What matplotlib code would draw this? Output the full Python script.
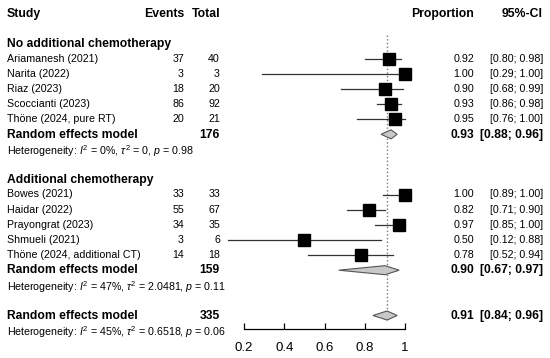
import matplotlib
matplotlib.use("Agg")
import matplotlib.pyplot as plt
from matplotlib.transforms import blended_transform_factory

plt.rcParams['font.family'] = ['Liberation Sans', 'DejaVu Sans']
plt.rcParams['mathtext.fontset'] = 'custom'
plt.rcParams['mathtext.rm'] = 'Liberation Sans'
plt.rcParams['mathtext.it'] = 'Liberation Sans:italic'

# subgroup 1: no additional chemotherapy
studies1 = ["Ariamanesh (2021)", "Narita (2022)", "Riaz (2023)", "Scoccianti (2023)", "Thöne (2024, pure RT)"]
events1 = [37, 3, 18, 86, 20]
totals1 = [40, 3, 20, 92, 21]
prop1 = [0.92, 1.00, 0.90, 0.93, 0.95]
lo1 = [0.80, 0.29, 0.68, 0.86, 0.76]
hi1 = [0.98, 1.00, 0.99, 0.98, 1.00]
re1 = (0.93, 0.88, 0.96)
n1 = 176
het1 = r"Heterogeneity: $I^2$ = 0%, $\tau^2$ = 0, $p$ = 0.98"

# subgroup 2: additional chemotherapy
studies2 = ["Bowes (2021)", "Haidar (2022)", "Prayongrat (2023)", "Shmueli (2021)", "Thöne (2024, additional CT)"]
events2 = [33, 55, 34, 3, 14]
totals2 = [33, 67, 35, 6, 18]
prop2 = [1.00, 0.82, 0.97, 0.50, 0.78]
lo2 = [0.89, 0.71, 0.85, 0.12, 0.52]
hi2 = [1.00, 0.90, 1.00, 0.88, 0.94]
re2 = (0.90, 0.67, 0.97)
n2 = 159
het2 = r"Heterogeneity: $I^2$ = 47%, $\tau^2$ = 2.0481, $p$ = 0.11"

# overall
re_all = (0.91, 0.84, 0.96)
n_all = 335
het_all = r"Heterogeneity: $I^2$ = 45%, $\tau^2$ = 0.6518, $p$ = 0.06"

ticks = [0.2, 0.4, 0.6, 0.8, 1.0]
tick_labels = ["0.2", "0.4", "0.6", "0.8", "1"]

W, H = 550, 358
fig = plt.figure(figsize=(W / 100, H / 100), dpi=100)
ax = fig.add_axes([0, 0, 1, 1])

# x: proportion scale, y: row index (pixel = 13.5 + 15.1 * row)
x0_px, x_scale = 244, 201.5
ax.set_xlim(0.2 - x0_px / x_scale, 0.2 + (W - x0_px) / x_scale)
ax.set_ylim((H - 13.5) / 15.1, -13.5 / 15.1)

tr = blended_transform_factory(ax.transAxes, ax.transData)
fs = 7.7
fsb = 8.7
fsh = 8.8
va = 'center_baseline'
dy = -0.08  # nudge text up a touch to line up with the marks

def px(x):
    return x / W

def txt(x, row, s, ha='left', size=fs, bold=False):
    ax.text(px(x), row + dy, s, transform=tr, ha=ha, va=va, fontsize=size,
            fontweight='bold' if bold else 'normal')

# headers
txt(7, 0, "Study", size=fsh, bold=True)
txt(184, 0, "Events", ha='right', size=fsh, bold=True)
txt(220, 0, "Total", ha='right', size=fsh, bold=True)
txt(474, 0, "Proportion", ha='right', size=fsh, bold=True)
txt(543, 0, "95%-CI", ha='right', size=fsh, bold=True)


def diamond(est, lo, hi, row):
    h = 0.3
    ax.fill([lo, est, hi, est], [row, row - h, row, row + h], facecolor='#c8c8c8',
            edgecolor='#555555', linewidth=0.8, zorder=3)


def model_row(r, re, n, het):
    txt(7, r, "Random effects model", size=fsb, bold=True)
    txt(220, r, str(n), ha='right', size=fsb, bold=True)
    txt(474, r, f"{re[0]:.2f}", ha='right', size=fsb, bold=True)
    txt(543, r, f"[{re[1]:.2f}; {re[2]:.2f}]", ha='right', size=fsb, bold=True)
    diamond(re[0], re[1], re[2], r)
    txt(7, r + 1.05, het)


def group(title, start, studies, ev, tot, p, lo, hi, re, n, het):
    txt(7, start, title, size=fsb, bold=True)
    for i in range(len(studies)):
        r = start + 1 + i
        txt(7, r, studies[i])
        txt(184, r, str(ev[i]), ha='right')
        txt(220, r, str(tot[i]), ha='right')
        txt(474, r, f"{p[i]:.2f}", ha='right')
        txt(543, r, f"[{lo[i]:.2f}; {hi[i]:.2f}]", ha='right')
        ax.plot([lo[i], hi[i]], [r, r], color='#333333', linewidth=0.9, zorder=2)
        ax.plot(p[i], r, marker='s', markersize=8, color='black', zorder=3)
    model_row(start + 1 + len(studies), re, n, het)


group("No additional chemotherapy", 2, studies1, events1, totals1, prop1, lo1, hi1, re1, n1, het1)
group("Additional chemotherapy", 11, studies2, events2, totals2, prop2, lo2, hi2, re2, n2, het2)
model_row(20, re_all, n_all, het_all)

# reference line at overall estimate
ax.plot([re_all[0], re_all[0]], [1.42, 20.35], color='#777777', linestyle=':', linewidth=1, zorder=1)

# axis
for s in ['top', 'left', 'right']:
    ax.spines[s].set_visible(False)
ax.spines['bottom'].set_position(('data', 20.91))
ax.spines['bottom'].set_bounds(0.2, 1.0)
ax.spines['bottom'].set_linewidth(0.9)
ax.set_xticks(ticks)
ax.set_xticklabels(tick_labels)
ax.tick_params(axis='x', direction='in', length=4.5, width=0.9, pad=9, labelsize=9.5)
ax.set_yticks([])
ax.patch.set_visible(False)

fig.savefig("out.png", dpi=100)
